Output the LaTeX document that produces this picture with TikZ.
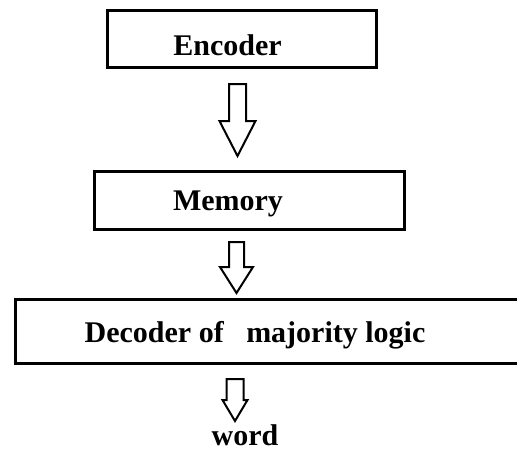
\documentclass[tikz,border=0pt]{standalone}
\usepackage{fontspec}
\setmainfont{Liberation Serif}
\usetikzlibrary{calc}

\tikzset{
  box/.style={draw,line width=3pt,inner sep=0pt},
  boxtext/.style={font=\fontsize{30}{36}\selectfont\bfseries,anchor=base,inner sep=0pt},
  blockarrow/.style={draw,line width=2pt,fill=white,line join=miter},
}

% hollow arrow pointing down: #1 top, #2 tip, #3 shaft half width,
% #4 head half width, #5 head length
\newcommand{\blockdown}[5]{%
  \draw[blockarrow] let \p1=(#1), \p2=(#2) in
    (\x2-#3pt,\y1) -- (\x2+#3pt,\y1) -- (\x2+#3pt,\y2+#5pt) -- (\x2+#4pt,\y2+#5pt)
    -- (\x2,\y2) -- (\x2-#4pt,\y2+#5pt) -- (\x2-#3pt,\y2+#5pt) -- cycle;}

\begin{document}
\begin{tikzpicture}[x=1pt,y=-1pt]
  \useasboundingbox (0,0) rectangle (517,451);
  \clip (0,0) rectangle (517,451);

  % boxes
  \node[box,minimum width=269,minimum height=57] (enc) at (242,39) {};
  \node[box,minimum width=309.5,minimum height=58] (mem) at (249.25,200.5) {};
  \node[box,minimum width=514.5,minimum height=64] (dec) at (272.75,331.5) {};

  % labels
  \node[boxtext] (enctext) at (227.5,55) {Encoder};
  \node[boxtext] (memtext) at (228,210) {Memory};
  \node[boxtext] (dectext) at (255,342) {Decoder of~~ majority logic};
  \node[boxtext] (word) at (245,445) {word};

  % arrows between the stages
  \coordinate (a1top) at (237.5,84);
  \coordinate (a1tip) at (237.5,156);
  \coordinate (a2top) at (236.5,242);
  \coordinate (a2tip) at (236.5,293);
  \coordinate (a3top) at (235,379);
  \coordinate (a3tip) at (235,421);
  \blockdown{a1top}{a1tip}{8.5}{18}{35}
  \blockdown{a2top}{a2tip}{7.5}{16.5}{26}
  \blockdown{a3top}{a3tip}{8.5}{12.5}{21}
\end{tikzpicture}
\end{document}
